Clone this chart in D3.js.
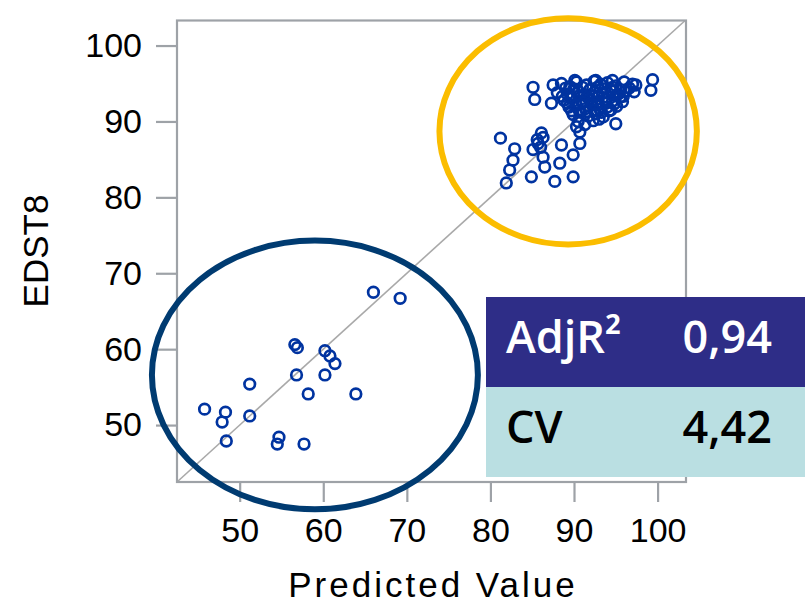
<!DOCTYPE html>
<html>
<head>
<meta charset="utf-8">
<script src="https://cdn.jsdelivr.net/npm/d3@7"></script>
<style>
  body { margin: 0; background: #ffffff; }
  svg { display: block; }
</style>
</head>
<body>
<svg id="chart" width="805" height="603"></svg>
<script>
// lower-left group (predicted, observed)
var lowPredicted = [66.0, 69.2, 56.6, 56.9, 60.2, 60.8, 61.4, 56.8, 60.2, 51.2, 58.2, 63.9, 45.8, 48.3, 51.2, 47.9, 48.4, 54.7, 54.5, 57.7];
var lowObserved  = [67.5, 66.7, 60.6, 60.2, 59.8, 59.1, 58.1, 56.6, 56.6, 55.4, 54.1, 54.1, 52.1, 51.7, 51.2, 50.4, 47.9, 48.4, 47.5, 47.5];

// upper-right group: loose points
var highPredicted = [85.1, 85.3, 87.5, 87.3, 90.1, 92.6, 94.6, 99.4, 99.2, 97.4, 95.8, 95.0, 94.4, 90.7, 90.3, 90.7, 89.9, 88.5, 88.3, 89.9,
                     87.7, 86.5, 86.3, 84.9, 85.7, 85.1, 86.1, 81.2, 82.9, 82.7, 82.3, 81.9, 86.0, 85.6, 86.3];
var highObserved  = [94.5, 92.9, 94.8, 92.4, 95.4, 95.4, 95.4, 95.5, 94.1, 94.8, 92.6, 89.7, 91.5, 88.6, 89.3, 87.1, 85.6, 86.9, 84.5, 82.7,
                     82.1, 84.0, 85.3, 82.7, 87.1, 86.3, 88.5, 87.8, 86.4, 84.9, 83.6, 81.9, 86.6, 87.6, 87.9];

// upper-right group: dense core
var corePredicted = [88.5, 89.5, 90.3, 91.5, 92.4, 93.2, 94.0, 95.0, 96.0, 97.0,
                     89.0, 90.0, 91.0, 91.9, 92.8, 93.7, 94.6, 95.6, 96.6,
                     88.0, 89.2, 90.5, 91.2, 92.5, 93.4, 94.4, 95.3, 96.2, 97.2,
                     88.6, 89.6, 90.6, 91.6, 92.2, 93.0, 94.0, 95.0, 95.9,
                     88.8, 89.8, 90.9, 91.9, 92.8, 93.7, 94.6, 95.5,
                     89.2, 90.2, 91.1, 92.0, 92.9, 93.8, 94.8,
                     89.4, 90.3, 91.4, 92.2, 93.1, 94.0, 95.1,
                     89.7, 90.6, 91.5, 92.4, 93.3, 94.2,
                     89.9, 90.8, 91.7, 92.6, 93.5,
                     90.5, 91.3, 92.3, 93.0];
var coreObserved  = [95.0, 94.6, 95.2, 94.8, 95.3, 94.9, 95.1, 94.7, 95.2, 94.9,
                     94.4, 94.3, 94.5, 94.2, 94.5, 94.3, 94.5, 94.2, 94.4,
                     93.8, 93.6, 94.0, 93.5, 93.9, 93.7, 94.1, 93.6, 94.0, 93.9,
                     93.3, 93.2, 93.4, 93.2, 93.3, 93.4, 93.2, 93.4, 93.3,
                     92.8, 93.1, 92.6, 93.0, 92.5, 92.9, 92.7, 93.2,
                     92.4, 92.3, 92.5, 92.4, 92.2, 92.4, 92.3,
                     91.9, 92.1, 91.7, 92.2, 91.6, 91.9, 92.0,
                     91.4, 91.5, 91.3, 91.5, 91.2, 91.4,
                     90.9, 91.2, 90.7, 91.0, 90.6,
                     90.0, 89.6, 90.1, 90.3];

var xTicks = [50, 60, 70, 80, 90, 100];
var yTicks = [50, 60, 70, 80, 90, 100];
var xTitle = "Predicted Value";
var yTitle = "EDST8";

// highlight ellipses in data units: [cx, cy, rx, ry]
var highEllipse = [89.3, 88.7, 15.4, 14.9];
var lowEllipse = [59.0, 56.6, 19.5, 17.7];

var statLabels = ["AdjR\u00b2", "CV"];
var statValues = ["0,94", "4,42"];

var svg = d3.select("#chart");

var x = d3.scaleLinear().domain([42.5, 103.4]).range([177, 686]);
var y = d3.scaleLinear().domain([42.5, 103.3]).range([482, 20.5]);

var points = [];
lowPredicted.forEach(function (d, i) { points.push([d, lowObserved[i]]); });
highPredicted.forEach(function (d, i) { points.push([d, highObserved[i]]); });
corePredicted.forEach(function (d, i) { points.push([d, coreObserved[i]]); });

var axisColor = "#9ea2a7";

// diagonal reference line
svg.append("line")
    .attr("x1", x(42.5)).attr("y1", y(42.5))
    .attr("x2", x(103.3)).attr("y2", y(103.3))
    .style("stroke", "#a9a9a9")
    .style("stroke-width", 1.6);

// points
svg.append("g")
    .selectAll("circle")
    .data(points)
    .enter()
    .append("circle")
    .attr("cx", function (d) { return x(d[0]); })
    .attr("cy", function (d) { return y(d[1]); })
    .attr("r", 5.3)
    .style("fill", "none")
    .style("stroke", "#0033a0")
    .style("stroke-width", 2.7);

// frame
svg.append("rect")
    .attr("x", x.range()[0]).attr("y", y.range()[1])
    .attr("width", x.range()[1] - x.range()[0])
    .attr("height", y.range()[0] - y.range()[1])
    .style("fill", "none")
    .style("stroke", axisColor)
    .style("stroke-width", 2.2);

// axes
var xAxis = svg.append("g")
    .attr("transform", "translate(0," + y.range()[0] + ")")
    .call(d3.axisBottom(x).tickValues(xTicks).tickSize(20).tickPadding(16));
var yAxis = svg.append("g")
    .attr("transform", "translate(" + x.range()[0] + ",0)")
    .call(d3.axisLeft(y).tickValues(yTicks).tickSize(21).tickPadding(14));

[xAxis, yAxis].forEach(function (a) {
    a.select(".domain").remove();
    a.selectAll(".tick line").style("stroke", axisColor).style("stroke-width", 2.2);
    a.selectAll(".tick text")
        .style("font-family", "'Liberation Sans', Arial, sans-serif")
        .style("font-size", "34px")
        .style("fill", "#000");
});

// axis titles
svg.append("text")
    .attr("x", 433)
    .attr("y", 597)
    .attr("text-anchor", "middle")
    .style("font-family", "'Liberation Sans', Arial, sans-serif")
    .style("font-size", "35px")
    .style("letter-spacing", "3px")
    .text(xTitle);

svg.append("text")
    .attr("transform", "translate(48,251)rotate(-90)")
    .attr("text-anchor", "middle")
    .style("font-family", "'Liberation Sans', Arial, sans-serif")
    .style("font-size", "35px")
    .text(yTitle);

// highlight ellipses
svg.append("ellipse")
    .attr("cx", x(highEllipse[0])).attr("cy", y(highEllipse[1]))
    .attr("rx", x(highEllipse[0] + highEllipse[2]) - x(highEllipse[0]))
    .attr("ry", y(highEllipse[1]) - y(highEllipse[1] + highEllipse[3]))
    .style("fill", "none")
    .style("stroke", "#fbbd00")
    .style("stroke-width", 6);

svg.append("ellipse")
    .attr("cx", x(lowEllipse[0])).attr("cy", y(lowEllipse[1]))
    .attr("rx", x(lowEllipse[0] + lowEllipse[2]) - x(lowEllipse[0]))
    .attr("ry", y(lowEllipse[1]) - y(lowEllipse[1] + lowEllipse[3]))
    .style("fill", "none")
    .style("stroke", "#003b71")
    .style("stroke-width", 6);

// stats table
var rowFill = ["#2e2d87", "#badfe2"];
var rowText = ["#ffffff", "#000000"];
var table = svg.append("g");
statLabels.forEach(function (lab, i) {
    var top = 297 + i * 90;
    table.append("rect")
        .attr("x", 486).attr("y", top)
        .attr("width", 319).attr("height", 90)
        .style("fill", rowFill[i]);
    table.append("text")
        .attr("x", 506).attr("y", top + 56)
        .style("font-family", "'Open Sans', sans-serif")
        .style("font-size", "45px")
        .style("font-weight", 600)
        .style("fill", rowText[i])
        .text(lab);
    table.append("text")
        .attr("x", 772).attr("y", top + 56)
        .attr("text-anchor", "end")
        .style("font-family", "'Open Sans', sans-serif")
        .style("font-size", "45px")
        .style("font-weight", 600)
        .style("fill", rowText[i])
        .text(statValues[i]);
});
</script>
</body>
</html>
